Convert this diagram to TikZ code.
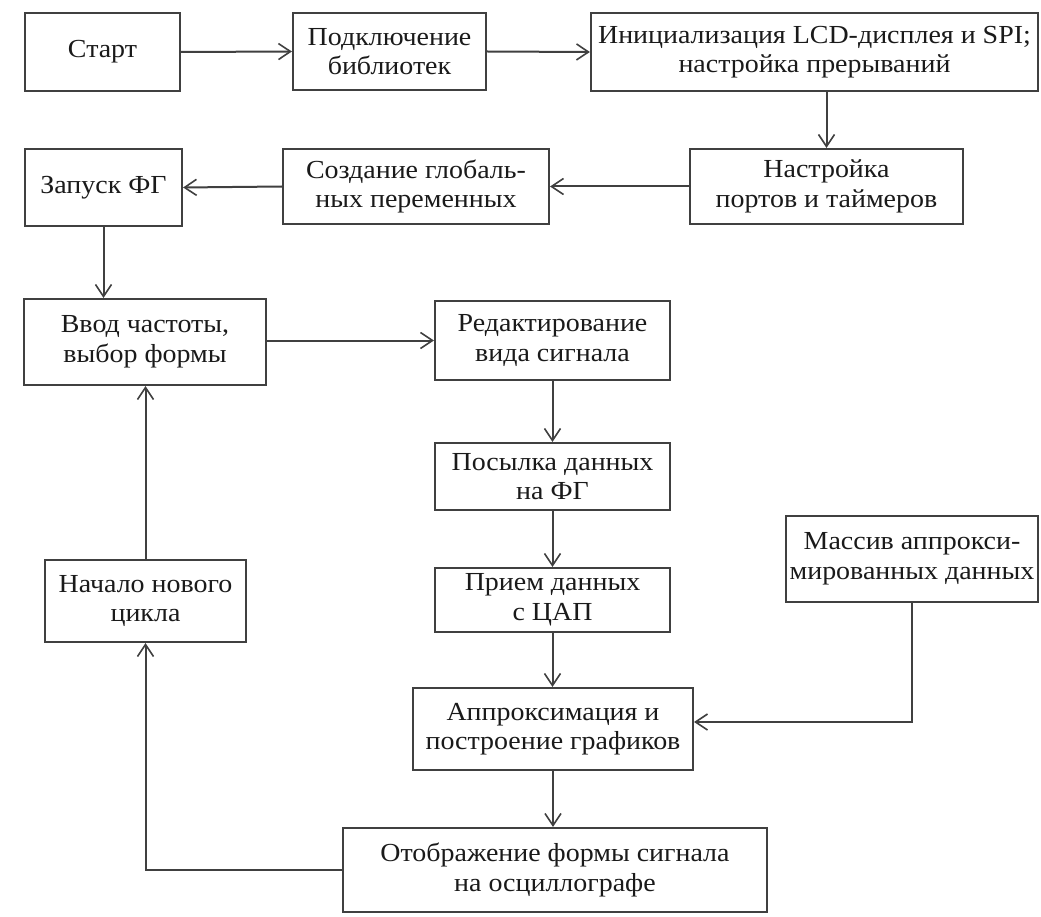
\documentclass[tikz,border=0pt]{standalone}
\usepackage{fontspec}
\setmainfont{Liberation Serif}[FakeStretch=1.075]
\usetikzlibrary{arrows.meta}
\definecolor{ln}{HTML}{404040}
\definecolor{tx}{HTML}{1A1A1A}
\tikzset{
  blk/.style={draw=ln, line width=2.2pt, fill=white, inner sep=0pt, align=center, text=tx,
    font=\fontsize{26}{29.5}\selectfont},
  con/.style={draw=ln, line width=2pt, -{Straight Barb[length=12pt,width=16pt,line width=1.6pt]}}
}
\newcommand{\bx}[7]{\node[blk, minimum width=#4pt, minimum height=#5pt] (#1) at (#2pt,-#3pt) {#6};}
\begin{document}
\begin{tikzpicture}[x=1pt,y=1pt]
\useasboundingbox[fill=white] (0,0) rectangle (1041,-917);
\bx{start}{102.5}{52}{155}{78}{Старт}{}
\bx{podkl}{389.5}{51.5}{193}{77}{Подключение\\библиотек}{}
\bx{init}{814.5}{52}{447}{78}{Инициализация LCD-дисплея и SPI;\\настройка прерываний}{}
\bx{nastr}{826.5}{186.5}{273}{75}{Настройка\\портов и таймеров}{}
\bx{sozd}{416}{186.5}{266}{75}{Создание глобаль-\\ных переменных}{}
\bx{zap}{103.5}{187.5}{157}{77}{Запуск ФГ}{}
\bx{vvod}{145}{342}{242}{86}{Ввод частоты,\\выбор формы}{}
\bx{red}{552.5}{340.5}{235}{79}{Редактирование\\вида сигнала}{}
\bx{pos}{552.5}{476.5}{235}{67}{Посылка данных\\на ФГ}{}
\bx{pri}{552.5}{600}{235}{64}{Прием данных\\с ЦАП}{}
\bx{mas}{912}{559}{252}{86}{Массив аппрокси-\\мированных данных}{}
\bx{appr}{553}{729}{280}{82}{Аппроксимация и\\построение графиков}{}
\bx{otob}{555}{870}{424}{84}{Отображение формы сигнала\\на осциллографе}{}
\bx{nach}{145.5}{601}{201}{82}{Начало нового\\цикла}{}

\draw[con] (start.east) -- (podkl.west);
\draw[con] (podkl.east) -- (init.west);
\draw[con] (init.south -| nastr.north) -- (nastr.north);
\draw[con] (nastr.west) -- (sozd.east);
\draw[con] (sozd.west) -- (zap.east);
\draw[con] (zap.south) -- (zap.south |- vvod.north);
\draw[con] (vvod.east |- red.west) -- (red.west);
\draw[con] (red.south) -- (pos.north);
\draw[con] (pos.south) -- (pri.north);
\draw[con] (pri.south) -- (pri.south |- appr.north);
\draw[con] (mas.south) |- ([yshift=7pt]appr.east);
\draw[con] (appr.south) -- (appr.south |- otob.north);
\draw[con] (otob.west) -| (nach.south);
\draw[con] (nach.north) -- (nach.north |- vvod.south);
\end{tikzpicture}
\end{document}
